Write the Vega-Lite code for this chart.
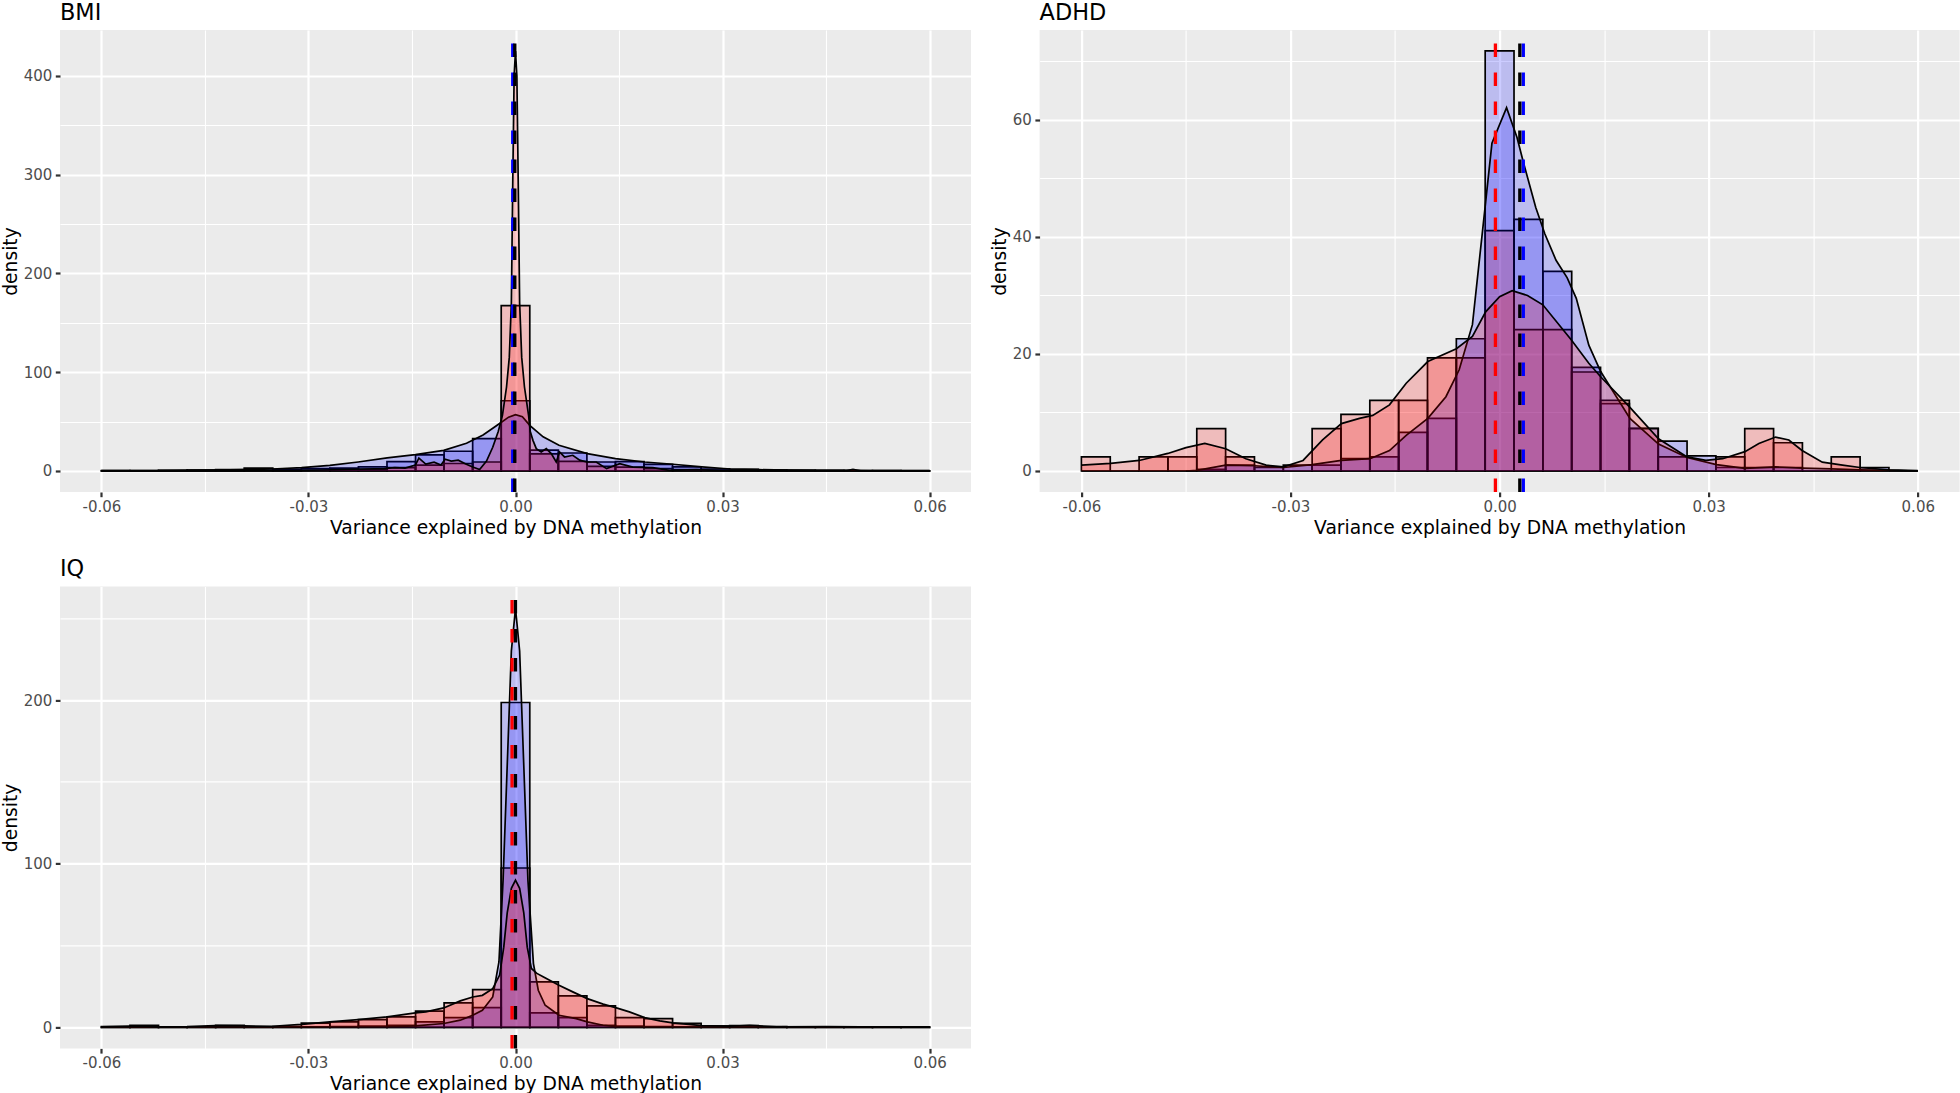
{
  "$schema": "https://vega.github.io/schema/vega-lite/v6.json",
  "background": "white",
  "padding": {"left": 1, "top": 1, "right": 0, "bottom": 0},
  "config": {
    "font": "DejaVu Sans",
    "view": {"fill": "#EBEBEB", "stroke": null},
    "axis": {"domain": false, "tickColor": "#333333", "tickWidth": 2.2, "tickSize": 4.7, "labelColor": "#4D4D4D", "labelFontSize": 15, "labelFont": "DejaVu Sans", "titleFont": "DejaVu Sans", "titleFontSize": 18.7, "titleFontWeight": "normal", "titleColor": "black", "gridColor": "#FFFFFF", "labelOverlap": false, "labelFlush": false, "labelPadding": 3.5, "titlePadding": 4},
    "axisX": {"labelPadding": 2.5, "titlePadding": 4},
    "axisY": {"titlePadding": 3},
    "title": {"anchor": "start", "frame": "group", "fontSize": 22.4, "fontWeight": "normal", "color": "black", "offset": 4, "font": "DejaVu Sans"}
  },
  "datasets": {
    "hist": [
      {"p":"BMI","lo":-0.06,"hi":-0.055862,"b":0.3,"r":0.2},
      {"p":"BMI","lo":-0.055862,"hi":-0.051724,"b":0.3,"r":0.2},
      {"p":"BMI","lo":-0.051724,"hi":-0.047586,"b":0.7,"r":0.3},
      {"p":"BMI","lo":-0.047586,"hi":-0.043448,"b":1.0,"r":0.3},
      {"p":"BMI","lo":-0.043448,"hi":-0.03931,"b":1.4,"r":0.5},
      {"p":"BMI","lo":-0.03931,"hi":-0.035172,"b":3.0,"r":0.5},
      {"p":"BMI","lo":-0.035172,"hi":-0.031034,"b":1.7,"r":0.3},
      {"p":"BMI","lo":-0.031034,"hi":-0.026897,"b":2.4,"r":0.7},
      {"p":"BMI","lo":-0.026897,"hi":-0.022759,"b":3.0,"r":1.0},
      {"p":"BMI","lo":-0.022759,"hi":-0.018621,"b":4.1,"r":1.7},
      {"p":"BMI","lo":-0.018621,"hi":-0.014483,"b":9.5,"r":3.4},
      {"p":"BMI","lo":-0.014483,"hi":-0.010345,"b":16.3,"r":6.0},
      {"p":"BMI","lo":-0.010345,"hi":-0.006207,"b":20.0,"r":7.6},
      {"p":"BMI","lo":-0.006207,"hi":-0.002069,"b":32.8,"r":9.1},
      {"p":"BMI","lo":-0.002069,"hi":0.002069,"b":71.1,"r":167.4},
      {"p":"BMI","lo":0.002069,"hi":0.006207,"b":21.2,"r":17.3},
      {"p":"BMI","lo":0.006207,"hi":0.010345,"b":18.2,"r":9.8},
      {"p":"BMI","lo":0.010345,"hi":0.014483,"b":9.1,"r":4.7},
      {"p":"BMI","lo":0.014483,"hi":0.018621,"b":9.5,"r":4.0},
      {"p":"BMI","lo":0.018621,"hi":0.022759,"b":6.8,"r":2.4},
      {"p":"BMI","lo":0.022759,"hi":0.026897,"b":4.1,"r":1.4},
      {"p":"BMI","lo":0.026897,"hi":0.031034,"b":2.0,"r":0.7},
      {"p":"BMI","lo":0.031034,"hi":0.035172,"b":1.7,"r":0.5},
      {"p":"BMI","lo":0.035172,"hi":0.03931,"b":1.0,"r":0.3},
      {"p":"BMI","lo":0.03931,"hi":0.043448,"b":0.7,"r":0.3},
      {"p":"BMI","lo":0.043448,"hi":0.047586,"b":0.5,"r":0.2},
      {"p":"BMI","lo":0.047586,"hi":0.051724,"b":0.3,"r":0.2},
      {"p":"BMI","lo":0.051724,"hi":0.055862,"b":0.3,"r":0.3},
      {"p":"BMI","lo":0.055862,"hi":0.06,"b":0.2,"r":0.2},
      {"p":"ADHD","lo":-0.06,"hi":-0.055862,"b":0,"r":2.42},
      {"p":"ADHD","lo":-0.055862,"hi":-0.051724,"b":0,"r":0},
      {"p":"ADHD","lo":-0.051724,"hi":-0.047586,"b":0,"r":2.42},
      {"p":"ADHD","lo":-0.047586,"hi":-0.043448,"b":0,"r":2.42},
      {"p":"ADHD","lo":-0.043448,"hi":-0.03931,"b":0.3,"r":7.25},
      {"p":"ADHD","lo":-0.03931,"hi":-0.035172,"b":1.0,"r":2.42},
      {"p":"ADHD","lo":-0.035172,"hi":-0.031034,"b":0.6,"r":0},
      {"p":"ADHD","lo":-0.031034,"hi":-0.026897,"b":1.0,"r":0},
      {"p":"ADHD","lo":-0.026897,"hi":-0.022759,"b":1.0,"r":7.25},
      {"p":"ADHD","lo":-0.022759,"hi":-0.018621,"b":2.1,"r":9.67},
      {"p":"ADHD","lo":-0.018621,"hi":-0.014483,"b":2.4,"r":12.08},
      {"p":"ADHD","lo":-0.014483,"hi":-0.010345,"b":6.6,"r":12.08},
      {"p":"ADHD","lo":-0.010345,"hi":-0.006207,"b":9.0,"r":19.33},
      {"p":"ADHD","lo":-0.006207,"hi":-0.002069,"b":22.6,"r":19.33},
      {"p":"ADHD","lo":-0.002069,"hi":0.002069,"b":71.8,"r":41.08},
      {"p":"ADHD","lo":0.002069,"hi":0.006207,"b":43.0,"r":24.17},
      {"p":"ADHD","lo":0.006207,"hi":0.010345,"b":34.1,"r":24.17},
      {"p":"ADHD","lo":0.010345,"hi":0.014483,"b":17.7,"r":16.92},
      {"p":"ADHD","lo":0.014483,"hi":0.018621,"b":11.5,"r":12.08},
      {"p":"ADHD","lo":0.018621,"hi":0.022759,"b":7.3,"r":7.25},
      {"p":"ADHD","lo":0.022759,"hi":0.026897,"b":5.1,"r":2.42},
      {"p":"ADHD","lo":0.026897,"hi":0.031034,"b":2.6,"r":0},
      {"p":"ADHD","lo":0.031034,"hi":0.035172,"b":0.6,"r":2.42},
      {"p":"ADHD","lo":0.035172,"hi":0.03931,"b":0.6,"r":7.25},
      {"p":"ADHD","lo":0.03931,"hi":0.043448,"b":0.6,"r":4.83},
      {"p":"ADHD","lo":0.043448,"hi":0.047586,"b":0,"r":0},
      {"p":"ADHD","lo":0.047586,"hi":0.051724,"b":0,"r":2.42},
      {"p":"ADHD","lo":0.051724,"hi":0.055862,"b":0.6,"r":0},
      {"p":"ADHD","lo":0.055862,"hi":0.06,"b":0,"r":0},
      {"p":"IQ","lo":-0.06,"hi":-0.055862,"b":0.2,"r":0.5},
      {"p":"IQ","lo":-0.055862,"hi":-0.051724,"b":0.2,"r":1.3},
      {"p":"IQ","lo":-0.051724,"hi":-0.047586,"b":0.1,"r":0.3},
      {"p":"IQ","lo":-0.047586,"hi":-0.043448,"b":0.1,"r":0.3},
      {"p":"IQ","lo":-0.043448,"hi":-0.03931,"b":0.2,"r":1.3},
      {"p":"IQ","lo":-0.03931,"hi":-0.035172,"b":0.2,"r":0.3},
      {"p":"IQ","lo":-0.035172,"hi":-0.031034,"b":0.2,"r":0.5},
      {"p":"IQ","lo":-0.031034,"hi":-0.026897,"b":0.3,"r":2.6},
      {"p":"IQ","lo":-0.026897,"hi":-0.022759,"b":0.5,"r":3.4},
      {"p":"IQ","lo":-0.022759,"hi":-0.018621,"b":0.8,"r":4.8},
      {"p":"IQ","lo":-0.018621,"hi":-0.014483,"b":1.3,"r":6.4},
      {"p":"IQ","lo":-0.014483,"hi":-0.010345,"b":3.4,"r":9.9},
      {"p":"IQ","lo":-0.010345,"hi":-0.006207,"b":6.0,"r":15.0},
      {"p":"IQ","lo":-0.006207,"hi":-0.002069,"b":12.1,"r":23.1},
      {"p":"IQ","lo":-0.002069,"hi":0.002069,"b":198.5,"r":97.4},
      {"p":"IQ","lo":0.002069,"hi":0.006207,"b":8.9,"r":27.8},
      {"p":"IQ","lo":0.006207,"hi":0.010345,"b":6.0,"r":19.3},
      {"p":"IQ","lo":0.010345,"hi":0.014483,"b":1.3,"r":13.2},
      {"p":"IQ","lo":0.014483,"hi":0.018621,"b":0.8,"r":6.0},
      {"p":"IQ","lo":0.018621,"hi":0.022759,"b":0.5,"r":5.4},
      {"p":"IQ","lo":0.022759,"hi":0.026897,"b":0.3,"r":2.4},
      {"p":"IQ","lo":0.026897,"hi":0.031034,"b":0.2,"r":0.9},
      {"p":"IQ","lo":0.031034,"hi":0.035172,"b":0.2,"r":1.1},
      {"p":"IQ","lo":0.035172,"hi":0.03931,"b":0.1,"r":0.5},
      {"p":"IQ","lo":0.03931,"hi":0.043448,"b":0.1,"r":0.3},
      {"p":"IQ","lo":0.043448,"hi":0.047586,"b":0.1,"r":0.3},
      {"p":"IQ","lo":0.047586,"hi":0.051724,"b":0.1,"r":0.3},
      {"p":"IQ","lo":0.051724,"hi":0.055862,"b":0.1,"r":0.3},
      {"p":"IQ","lo":0.055862,"hi":0.06,"b":0.1,"r":0.3}
    ],
    "dens": [
      {"p":"BMI","g":"b","x":-0.06,"y":0.3},{"p":"BMI","g":"b","x":-0.0517,"y":0.35},{"p":"BMI","g":"b","x":-0.0476,"y":0.7},{"p":"BMI","g":"b","x":-0.0435,"y":1.0},{"p":"BMI","g":"b","x":-0.0393,"y":1.35},{"p":"BMI","g":"b","x":-0.0352,"y":2.0},{"p":"BMI","g":"b","x":-0.031,"y":3.4},{"p":"BMI","g":"b","x":-0.0269,"y":5.7},{"p":"BMI","g":"b","x":-0.0228,"y":9.1},{"p":"BMI","g":"b","x":-0.0186,"y":13.2},{"p":"BMI","g":"b","x":-0.0145,"y":16.5},{"p":"BMI","g":"b","x":-0.0104,"y":20.9},{"p":"BMI","g":"b","x":-0.0071,"y":28},{"p":"BMI","g":"b","x":-0.0047,"y":36.4},{"p":"BMI","g":"b","x":-0.0023,"y":48},{"p":"BMI","g":"b","x":-0.001,"y":54.5},{"p":"BMI","g":"b","x":0,"y":57},{"p":"BMI","g":"b","x":0.001,"y":55},{"p":"BMI","g":"b","x":0.0021,"y":46},{"p":"BMI","g":"b","x":0.004,"y":34.6},{"p":"BMI","g":"b","x":0.0063,"y":26},{"p":"BMI","g":"b","x":0.0104,"y":17.6},{"p":"BMI","g":"b","x":0.0145,"y":12.5},{"p":"BMI","g":"b","x":0.0187,"y":9.1},{"p":"BMI","g":"b","x":0.0228,"y":6.8},{"p":"BMI","g":"b","x":0.027,"y":4.1},{"p":"BMI","g":"b","x":0.0311,"y":2.0},{"p":"BMI","g":"b","x":0.0352,"y":1.35},{"p":"BMI","g":"b","x":0.0394,"y":1.0},{"p":"BMI","g":"b","x":0.0435,"y":0.7},{"p":"BMI","g":"b","x":0.0476,"y":0.7},{"p":"BMI","g":"b","x":0.0518,"y":0.35},{"p":"BMI","g":"b","x":0.06,"y":0.3},
      {"p":"BMI","g":"r","x":-0.06,"y":0.1},{"p":"BMI","g":"r","x":-0.05,"y":0.2},{"p":"BMI","g":"r","x":-0.04,"y":0.3},{"p":"BMI","g":"r","x":-0.035,"y":0.5},{"p":"BMI","g":"r","x":-0.031,"y":0.7},{"p":"BMI","g":"r","x":-0.028,"y":1.0},{"p":"BMI","g":"r","x":-0.025,"y":1.5},{"p":"BMI","g":"r","x":-0.022,"y":2.0},{"p":"BMI","g":"r","x":-0.019,"y":2.5},{"p":"BMI","g":"r","x":-0.0175,"y":3.5},{"p":"BMI","g":"r","x":-0.016,"y":3.0},{"p":"BMI","g":"r","x":-0.0145,"y":6},{"p":"BMI","g":"r","x":-0.014,"y":13},{"p":"BMI","g":"r","x":-0.013,"y":7},{"p":"BMI","g":"r","x":-0.0118,"y":9},{"p":"BMI","g":"r","x":-0.0108,"y":6},{"p":"BMI","g":"r","x":-0.0102,"y":12},{"p":"BMI","g":"r","x":-0.0093,"y":10},{"p":"BMI","g":"r","x":-0.0083,"y":11},{"p":"BMI","g":"r","x":-0.0072,"y":7},{"p":"BMI","g":"r","x":-0.0062,"y":4},{"p":"BMI","g":"r","x":-0.0052,"y":1.5},{"p":"BMI","g":"r","x":-0.0042,"y":10},{"p":"BMI","g":"r","x":-0.0033,"y":24},{"p":"BMI","g":"r","x":-0.0025,"y":40},{"p":"BMI","g":"r","x":-0.0019,"y":56},{"p":"BMI","g":"r","x":-0.0013,"y":85},{"p":"BMI","g":"r","x":-0.0009,"y":115},{"p":"BMI","g":"r","x":-0.0006,"y":170},{"p":"BMI","g":"r","x":-0.0004,"y":290},{"p":"BMI","g":"r","x":-0.0002,"y":400},{"p":"BMI","g":"r","x":0,"y":425},{"p":"BMI","g":"r","x":0.0002,"y":400},{"p":"BMI","g":"r","x":0.0004,"y":290},{"p":"BMI","g":"r","x":0.0006,"y":170},{"p":"BMI","g":"r","x":0.0009,"y":115},{"p":"BMI","g":"r","x":0.0013,"y":85},{"p":"BMI","g":"r","x":0.0019,"y":56},{"p":"BMI","g":"r","x":0.00214,"y":40},{"p":"BMI","g":"r","x":0.00253,"y":31},{"p":"BMI","g":"r","x":0.00301,"y":22.6},{"p":"BMI","g":"r","x":0.00373,"y":19.2},{"p":"BMI","g":"r","x":0.00446,"y":22.6},{"p":"BMI","g":"r","x":0.00518,"y":17.6},{"p":"BMI","g":"r","x":0.0059,"y":9.1},{"p":"BMI","g":"r","x":0.00639,"y":19.2},{"p":"BMI","g":"r","x":0.0071,"y":14.2},{"p":"BMI","g":"r","x":0.0083,"y":15.9},{"p":"BMI","g":"r","x":0.0093,"y":11},{"p":"BMI","g":"r","x":0.0103,"y":9.1},{"p":"BMI","g":"r","x":0.0117,"y":9.1},{"p":"BMI","g":"r","x":0.0132,"y":2.4},{"p":"BMI","g":"r","x":0.0151,"y":7.4},{"p":"BMI","g":"r","x":0.017,"y":4},{"p":"BMI","g":"r","x":0.0199,"y":3.4},{"p":"BMI","g":"r","x":0.0223,"y":0.7},{"p":"BMI","g":"r","x":0.0262,"y":1.4},{"p":"BMI","g":"r","x":0.03,"y":0.3},{"p":"BMI","g":"r","x":0.0378,"y":0.3},{"p":"BMI","g":"r","x":0.048,"y":0.3},{"p":"BMI","g":"r","x":0.0489,"y":1.7},{"p":"BMI","g":"r","x":0.05,"y":0.2},{"p":"BMI","g":"r","x":0.06,"y":0.1},
      {"p":"ADHD","g":"r","x":-0.06,"y":1.0},{"p":"ADHD","g":"r","x":-0.0558,"y":1.3},{"p":"ADHD","g":"r","x":-0.0517,"y":1.8},{"p":"ADHD","g":"r","x":-0.0476,"y":3.0},{"p":"ADHD","g":"r","x":-0.045,"y":4.0},{"p":"ADHD","g":"r","x":-0.0423,"y":4.7},{"p":"ADHD","g":"r","x":-0.0393,"y":3.8},{"p":"ADHD","g":"r","x":-0.0364,"y":2.1},{"p":"ADHD","g":"r","x":-0.0335,"y":1.0},{"p":"ADHD","g":"r","x":-0.031,"y":0.7},{"p":"ADHD","g":"r","x":-0.0282,"y":1.8},{"p":"ADHD","g":"r","x":-0.0254,"y":5.3},{"p":"ADHD","g":"r","x":-0.0227,"y":8.1},{"p":"ADHD","g":"r","x":-0.0201,"y":9.0},{"p":"ADHD","g":"r","x":-0.0182,"y":9.5},{"p":"ADHD","g":"r","x":-0.0158,"y":11.3},{"p":"ADHD","g":"r","x":-0.0134,"y":15.0},{"p":"ADHD","g":"r","x":-0.0103,"y":18.7},{"p":"ADHD","g":"r","x":-0.0062,"y":20.9},{"p":"ADHD","g":"r","x":-0.0039,"y":23.0},{"p":"ADHD","g":"r","x":-0.002,"y":27.2},{"p":"ADHD","g":"r","x":0,"y":29.8},{"p":"ADHD","g":"r","x":0.0018,"y":30.8},{"p":"ADHD","g":"r","x":0.004,"y":30.0},{"p":"ADHD","g":"r","x":0.0062,"y":28.4},{"p":"ADHD","g":"r","x":0.0103,"y":22.4},{"p":"ADHD","g":"r","x":0.0128,"y":18.4},{"p":"ADHD","g":"r","x":0.0145,"y":16.1},{"p":"ADHD","g":"r","x":0.0186,"y":11.0},{"p":"ADHD","g":"r","x":0.0228,"y":5.5},{"p":"ADHD","g":"r","x":0.0269,"y":2.4},{"p":"ADHD","g":"r","x":0.0296,"y":1.8},{"p":"ADHD","g":"r","x":0.032,"y":2.1},{"p":"ADHD","g":"r","x":0.0352,"y":3.3},{"p":"ADHD","g":"r","x":0.0372,"y":4.7},{"p":"ADHD","g":"r","x":0.0396,"y":5.8},{"p":"ADHD","g":"r","x":0.0415,"y":5.3},{"p":"ADHD","g":"r","x":0.0434,"y":3.5},{"p":"ADHD","g":"r","x":0.0463,"y":1.5},{"p":"ADHD","g":"r","x":0.0492,"y":1.0},{"p":"ADHD","g":"r","x":0.0517,"y":0.6},{"p":"ADHD","g":"r","x":0.0558,"y":0.2},{"p":"ADHD","g":"r","x":0.06,"y":0.05},
      {"p":"ADHD","g":"b","x":-0.045,"y":0.0},{"p":"ADHD","g":"b","x":-0.0434,"y":0.1},{"p":"ADHD","g":"b","x":-0.0393,"y":1.0},{"p":"ADHD","g":"b","x":-0.0352,"y":0.9},{"p":"ADHD","g":"b","x":-0.031,"y":0.6},{"p":"ADHD","g":"b","x":-0.0269,"y":1.1},{"p":"ADHD","g":"b","x":-0.0227,"y":1.8},{"p":"ADHD","g":"b","x":-0.0186,"y":2.1},{"p":"ADHD","g":"b","x":-0.0158,"y":3.5},{"p":"ADHD","g":"b","x":-0.0134,"y":6.1},{"p":"ADHD","g":"b","x":-0.0103,"y":9.0},{"p":"ADHD","g":"b","x":-0.0077,"y":12.7},{"p":"ADHD","g":"b","x":-0.0058,"y":17.3},{"p":"ADHD","g":"b","x":-0.0039,"y":25},{"p":"ADHD","g":"b","x":-0.002,"y":46},{"p":"ADHD","g":"b","x":-0.0011,"y":56},{"p":"ADHD","g":"b","x":0.001,"y":62.1},{"p":"ADHD","g":"b","x":0.0025,"y":57},{"p":"ADHD","g":"b","x":0.0034,"y":52.8},{"p":"ADHD","g":"b","x":0.0052,"y":45},{"p":"ADHD","g":"b","x":0.0065,"y":40.5},{"p":"ADHD","g":"b","x":0.0081,"y":36},{"p":"ADHD","g":"b","x":0.0097,"y":33},{"p":"ADHD","g":"b","x":0.011,"y":29.5},{"p":"ADHD","g":"b","x":0.0128,"y":21.5},{"p":"ADHD","g":"b","x":0.0145,"y":17},{"p":"ADHD","g":"b","x":0.0187,"y":9},{"p":"ADHD","g":"b","x":0.0228,"y":4.6},{"p":"ADHD","g":"b","x":0.0269,"y":2.3},{"p":"ADHD","g":"b","x":0.0311,"y":1.1},{"p":"ADHD","g":"b","x":0.0352,"y":0.45},{"p":"ADHD","g":"b","x":0.0396,"y":0.7},{"p":"ADHD","g":"b","x":0.0434,"y":0.5},{"p":"ADHD","g":"b","x":0.0476,"y":0.35},{"p":"ADHD","g":"b","x":0.0517,"y":0.2},{"p":"ADHD","g":"b","x":0.0558,"y":0.1},{"p":"ADHD","g":"b","x":0.06,"y":0.0},
      {"p":"IQ","g":"b","x":-0.06,"y":0.1},{"p":"IQ","g":"b","x":-0.03,"y":0.2},{"p":"IQ","g":"b","x":-0.0186,"y":0.4},{"p":"IQ","g":"b","x":-0.0145,"y":0.9},{"p":"IQ","g":"b","x":-0.0104,"y":2.4},{"p":"IQ","g":"b","x":-0.008,"y":4.4},{"p":"IQ","g":"b","x":-0.0062,"y":7.4},{"p":"IQ","g":"b","x":-0.0048,"y":10.5},{"p":"IQ","g":"b","x":-0.0033,"y":18.6},{"p":"IQ","g":"b","x":-0.0024,"y":40},{"p":"IQ","g":"b","x":-0.0018,"y":90},{"p":"IQ","g":"b","x":-0.0012,"y":160},{"p":"IQ","g":"b","x":-0.0006,"y":230},{"p":"IQ","g":"b","x":0,"y":256},{"p":"IQ","g":"b","x":0.0006,"y":230},{"p":"IQ","g":"b","x":0.0012,"y":160},{"p":"IQ","g":"b","x":0.0018,"y":90},{"p":"IQ","g":"b","x":0.0026,"y":39},{"p":"IQ","g":"b","x":0.0033,"y":22.7},{"p":"IQ","g":"b","x":0.0043,"y":13.5},{"p":"IQ","g":"b","x":0.0063,"y":7.4},{"p":"IQ","g":"b","x":0.0088,"y":5.4},{"p":"IQ","g":"b","x":0.0104,"y":3.4},{"p":"IQ","g":"b","x":0.0127,"y":1.3},{"p":"IQ","g":"b","x":0.0146,"y":0.5},{"p":"IQ","g":"b","x":0.02,"y":0.2},{"p":"IQ","g":"b","x":0.06,"y":0.1},
      {"p":"IQ","g":"r","x":-0.06,"y":0.3},{"p":"IQ","g":"r","x":-0.054,"y":0.9},{"p":"IQ","g":"r","x":-0.0517,"y":0.3},{"p":"IQ","g":"r","x":-0.0476,"y":0.5},{"p":"IQ","g":"r","x":-0.0435,"y":1.1},{"p":"IQ","g":"r","x":-0.0393,"y":0.9},{"p":"IQ","g":"r","x":-0.0352,"y":0.7},{"p":"IQ","g":"r","x":-0.031,"y":1.8},{"p":"IQ","g":"r","x":-0.0269,"y":3.4},{"p":"IQ","g":"r","x":-0.0228,"y":4.8},{"p":"IQ","g":"r","x":-0.0186,"y":6.4},{"p":"IQ","g":"r","x":-0.0145,"y":8.9},{"p":"IQ","g":"r","x":-0.013,"y":9.5},{"p":"IQ","g":"r","x":-0.0104,"y":11.9},{"p":"IQ","g":"r","x":-0.008,"y":16.2},{"p":"IQ","g":"r","x":-0.0062,"y":18.6},{"p":"IQ","g":"r","x":-0.0048,"y":19.6},{"p":"IQ","g":"r","x":-0.0033,"y":23.7},{"p":"IQ","g":"r","x":-0.0023,"y":32},{"p":"IQ","g":"r","x":-0.0017,"y":49},{"p":"IQ","g":"r","x":-0.0012,"y":70},{"p":"IQ","g":"r","x":-0.0006,"y":85},{"p":"IQ","g":"r","x":0,"y":90},{"p":"IQ","g":"r","x":0.0006,"y":85},{"p":"IQ","g":"r","x":0.0012,"y":70},{"p":"IQ","g":"r","x":0.0017,"y":49},{"p":"IQ","g":"r","x":0.0023,"y":36},{"p":"IQ","g":"r","x":0.0031,"y":33},{"p":"IQ","g":"r","x":0.004,"y":30.9},{"p":"IQ","g":"r","x":0.0063,"y":25.8},{"p":"IQ","g":"r","x":0.0083,"y":21.7},{"p":"IQ","g":"r","x":0.0104,"y":17.6},{"p":"IQ","g":"r","x":0.0127,"y":14.2},{"p":"IQ","g":"r","x":0.0145,"y":12.1},{"p":"IQ","g":"r","x":0.0165,"y":9.5},{"p":"IQ","g":"r","x":0.0187,"y":6.0},{"p":"IQ","g":"r","x":0.0209,"y":4.0},{"p":"IQ","g":"r","x":0.0228,"y":2.8},{"p":"IQ","g":"r","x":0.027,"y":1.1},{"p":"IQ","g":"r","x":0.0311,"y":0.7},{"p":"IQ","g":"r","x":0.0339,"y":1.3},{"p":"IQ","g":"r","x":0.0378,"y":0.3},{"p":"IQ","g":"r","x":0.045,"y":0.5},{"p":"IQ","g":"r","x":0.06,"y":0.1}
    ],
    "vl": [
      {"p":"BMI","c":"blue","x":-0.0004},{"p":"BMI","c":"black","x":-0.0001},
      {"p":"ADHD","c":"red","x":-0.0006},{"p":"ADHD","c":"blue","x":0.0034},{"p":"ADHD","c":"black","x":0.0029},
      {"p":"IQ","c":"red","x":-0.0005},{"p":"IQ","c":"black","x":0.0}
    ]
  },
  "concat": [
    {
      "title": "BMI",
      "width": 911, "height": 462,
      "layer": [
        {"data": {"name": "hist"}, "transform": [{"filter": "datum.p == 'BMI'"}],
         "mark": {"type": "rect", "fill": "#0000FF", "fillOpacity": 0.2, "stroke": "black", "strokeWidth": 1.7},
         "encoding": {
           "x": {"field": "lo", "type": "quantitative", "title": "Variance explained by DNA methylation", "scale": {"domain": [-0.066, 0.066], "nice": false, "zero": false},
                 "axis": {"values": [-0.06,-0.045,-0.03,-0.015,0,0.015,0.03,0.045,0.06], "labelExpr": "(abs(datum.value) < 1e-9) ? '0.00' : ((abs(abs(datum.value) - 0.03) < 1e-9 || abs(abs(datum.value) - 0.06) < 1e-9) ? ((datum.value < 0 ? '-' : '') + format(abs(datum.value), '.2f')) : '')", "gridWidth": {"condition": {"test": "abs(datum.value) < 1e-9 || abs(abs(datum.value) - 0.03) < 1e-9 || abs(abs(datum.value) - 0.06) < 1e-9", "value": 2.2}, "value": 1.1}, "tickOpacity": {"condition": {"test": "abs(datum.value) < 1e-9 || abs(abs(datum.value) - 0.03) < 1e-9 || abs(abs(datum.value) - 0.06) < 1e-9", "value": 1}, "value": 0}}},
           "x2": {"field": "hi"},
           "y": {"field": "b", "type": "quantitative", "title": "density", "scale": {"domain": [-21.26, 446.36], "nice": false, "zero": false},
                 "axis": {"values": [0,50,100,150,200,250,300,350,400], "labelExpr": "datum.value % 100 === 0 ? '' + datum.value : ''", "gridWidth": {"condition": {"test": "datum.value % 100 === 0", "value": 2.2}, "value": 1.1}, "tickOpacity": {"condition": {"test": "datum.value % 100 === 0", "value": 1}, "value": 0}}},
           "y2": {"datum": 0}
         }},
        {"data": {"name": "hist"}, "transform": [{"filter": "datum.p == 'BMI'"}],
         "mark": {"type": "rect", "fill": "#FF0000", "fillOpacity": 0.2, "stroke": "black", "strokeWidth": 1.7},
         "encoding": {"x": {"field": "lo", "type": "quantitative", "title": "Variance explained by DNA methylation"}, "x2": {"field": "hi"}, "y": {"field": "r", "type": "quantitative", "title": "density"}, "y2": {"datum": 0}}},
        {"data": {"name": "dens"}, "transform": [{"filter": "datum.p == 'BMI' && datum.g == 'b'"}],
         "mark": {"type": "area", "fill": "#0000FF", "fillOpacity": 0.2, "line": {"color": "black", "strokeWidth": 1.7}},
         "encoding": {"x": {"field": "x", "type": "quantitative", "title": "Variance explained by DNA methylation"}, "y": {"field": "y", "type": "quantitative", "title": "density"}, "y2": {"datum": 0}}},
        {"data": {"name": "dens"}, "transform": [{"filter": "datum.p == 'BMI' && datum.g == 'r'"}],
         "mark": {"type": "area", "fill": "#FF0000", "fillOpacity": 0.2, "line": {"color": "black", "strokeWidth": 1.7}},
         "encoding": {"x": {"field": "x", "type": "quantitative", "title": "Variance explained by DNA methylation"}, "y": {"field": "y", "type": "quantitative", "title": "density"}, "y2": {"datum": 0}}},
        {"data": {"name": "vl"}, "transform": [{"filter": "datum.p == 'BMI' && datum.c == 'blue'"}],
         "mark": {"type": "rule", "color": "#0000FF", "strokeWidth": 3.3, "strokeDash": [13.5, 15.5]},
         "encoding": {"x": {"field": "x", "type": "quantitative", "title": "Variance explained by DNA methylation"}, "y": {"datum": -21.26}, "y2": {"datum": 446.36}}},
        {"data": {"name": "vl"}, "transform": [{"filter": "datum.p == 'BMI' && datum.c == 'black'"}],
         "mark": {"type": "rule", "color": "black", "strokeWidth": 3.3, "strokeDash": [13.5, 15.5]},
         "encoding": {"x": {"field": "x", "type": "quantitative", "title": "Variance explained by DNA methylation"}, "y": {"datum": -21.26}, "y2": {"datum": 446.36}}}
      ]
    },
    {
      "title": "ADHD",
      "width": 920, "height": 462,
      "layer": [
        {"data": {"name": "hist"}, "transform": [{"filter": "datum.p == 'ADHD'"}],
         "mark": {"type": "rect", "fill": "#0000FF", "fillOpacity": 0.2, "stroke": "black", "strokeWidth": 1.7},
         "encoding": {
           "x": {"field": "lo", "type": "quantitative", "title": "Variance explained by DNA methylation", "scale": {"domain": [-0.066, 0.066], "nice": false, "zero": false},
                 "axis": {"values": [-0.06,-0.045,-0.03,-0.015,0,0.015,0.03,0.045,0.06], "labelExpr": "(abs(datum.value) < 1e-9) ? '0.00' : ((abs(abs(datum.value) - 0.03) < 1e-9 || abs(abs(datum.value) - 0.06) < 1e-9) ? ((datum.value < 0 ? '-' : '') + format(abs(datum.value), '.2f')) : '')", "gridWidth": {"condition": {"test": "abs(datum.value) < 1e-9 || abs(abs(datum.value) - 0.03) < 1e-9 || abs(abs(datum.value) - 0.06) < 1e-9", "value": 2.2}, "value": 1.1}, "tickOpacity": {"condition": {"test": "abs(datum.value) < 1e-9 || abs(abs(datum.value) - 0.03) < 1e-9 || abs(abs(datum.value) - 0.06) < 1e-9", "value": 1}, "value": 0}}},
           "x2": {"field": "hi"},
           "y": {"field": "b", "type": "quantitative", "title": "density", "scale": {"domain": [-3.59, 75.36], "nice": false, "zero": false},
                 "axis": {"values": [0,10,20,30,40,50,60,70], "labelExpr": "datum.value % 20 === 0 ? '' + datum.value : ''", "gridWidth": {"condition": {"test": "datum.value % 20 === 0", "value": 2.2}, "value": 1.1}, "tickOpacity": {"condition": {"test": "datum.value % 20 === 0", "value": 1}, "value": 0}}},
           "y2": {"datum": 0}
         }},
        {"data": {"name": "hist"}, "transform": [{"filter": "datum.p == 'ADHD'"}],
         "mark": {"type": "rect", "fill": "#FF0000", "fillOpacity": 0.2, "stroke": "black", "strokeWidth": 1.7},
         "encoding": {"x": {"field": "lo", "type": "quantitative", "title": "Variance explained by DNA methylation"}, "x2": {"field": "hi"}, "y": {"field": "r", "type": "quantitative", "title": "density"}, "y2": {"datum": 0}}},
        {"data": {"name": "dens"}, "transform": [{"filter": "datum.p == 'ADHD' && datum.g == 'b'"}],
         "mark": {"type": "area", "fill": "#0000FF", "fillOpacity": 0.2, "line": {"color": "black", "strokeWidth": 1.7}},
         "encoding": {"x": {"field": "x", "type": "quantitative", "title": "Variance explained by DNA methylation"}, "y": {"field": "y", "type": "quantitative", "title": "density"}, "y2": {"datum": 0}}},
        {"data": {"name": "dens"}, "transform": [{"filter": "datum.p == 'ADHD' && datum.g == 'r'"}],
         "mark": {"type": "area", "fill": "#FF0000", "fillOpacity": 0.2, "line": {"color": "black", "strokeWidth": 1.7}},
         "encoding": {"x": {"field": "x", "type": "quantitative", "title": "Variance explained by DNA methylation"}, "y": {"field": "y", "type": "quantitative", "title": "density"}, "y2": {"datum": 0}}},
        {"data": {"name": "vl"}, "transform": [{"filter": "datum.p == 'ADHD' && datum.c == 'red'"}],
         "mark": {"type": "rule", "color": "#FF0000", "strokeWidth": 3.3, "strokeDash": [13.5, 15.5]},
         "encoding": {"x": {"field": "x", "type": "quantitative", "title": "Variance explained by DNA methylation"}, "y": {"datum": -3.59}, "y2": {"datum": 75.36}}},
        {"data": {"name": "vl"}, "transform": [{"filter": "datum.p == 'ADHD' && datum.c == 'blue'"}],
         "mark": {"type": "rule", "color": "#0000FF", "strokeWidth": 3.3, "strokeDash": [13.5, 15.5]},
         "encoding": {"x": {"field": "x", "type": "quantitative", "title": "Variance explained by DNA methylation"}, "y": {"datum": -3.59}, "y2": {"datum": 75.36}}},
        {"data": {"name": "vl"}, "transform": [{"filter": "datum.p == 'ADHD' && datum.c == 'black'"}],
         "mark": {"type": "rule", "color": "black", "strokeWidth": 3.3, "strokeDash": [13.5, 15.5]},
         "encoding": {"x": {"field": "x", "type": "quantitative", "title": "Variance explained by DNA methylation"}, "y": {"datum": -3.59}, "y2": {"datum": 75.36}}}
      ]
    },
    {
      "title": "IQ",
      "width": 911, "height": 462,
      "layer": [
        {"data": {"name": "hist"}, "transform": [{"filter": "datum.p == 'IQ'"}],
         "mark": {"type": "rect", "fill": "#0000FF", "fillOpacity": 0.2, "stroke": "black", "strokeWidth": 1.7},
         "encoding": {
           "x": {"field": "lo", "type": "quantitative", "title": "Variance explained by DNA methylation", "scale": {"domain": [-0.066, 0.066], "nice": false, "zero": false},
                 "axis": {"values": [-0.06,-0.045,-0.03,-0.015,0,0.015,0.03,0.045,0.06], "labelExpr": "(abs(datum.value) < 1e-9) ? '0.00' : ((abs(abs(datum.value) - 0.03) < 1e-9 || abs(abs(datum.value) - 0.06) < 1e-9) ? ((datum.value < 0 ? '-' : '') + format(abs(datum.value), '.2f')) : '')", "gridWidth": {"condition": {"test": "abs(datum.value) < 1e-9 || abs(abs(datum.value) - 0.03) < 1e-9 || abs(abs(datum.value) - 0.06) < 1e-9", "value": 2.2}, "value": 1.1}, "tickOpacity": {"condition": {"test": "abs(datum.value) < 1e-9 || abs(abs(datum.value) - 0.03) < 1e-9 || abs(abs(datum.value) - 0.06) < 1e-9", "value": 1}, "value": 0}}},
           "x2": {"field": "hi"},
           "y": {"field": "b", "type": "quantitative", "title": "density", "scale": {"domain": [-12.83, 269.43], "nice": false, "zero": false},
                 "axis": {"values": [0,50,100,150,200,250], "labelExpr": "datum.value % 100 === 0 ? '' + datum.value : ''", "gridWidth": {"condition": {"test": "datum.value % 100 === 0", "value": 2.2}, "value": 1.1}, "tickOpacity": {"condition": {"test": "datum.value % 100 === 0", "value": 1}, "value": 0}}},
           "y2": {"datum": 0}
         }},
        {"data": {"name": "hist"}, "transform": [{"filter": "datum.p == 'IQ'"}],
         "mark": {"type": "rect", "fill": "#FF0000", "fillOpacity": 0.2, "stroke": "black", "strokeWidth": 1.7},
         "encoding": {"x": {"field": "lo", "type": "quantitative", "title": "Variance explained by DNA methylation"}, "x2": {"field": "hi"}, "y": {"field": "r", "type": "quantitative", "title": "density"}, "y2": {"datum": 0}}},
        {"data": {"name": "dens"}, "transform": [{"filter": "datum.p == 'IQ' && datum.g == 'b'"}],
         "mark": {"type": "area", "fill": "#0000FF", "fillOpacity": 0.2, "line": {"color": "black", "strokeWidth": 1.7}},
         "encoding": {"x": {"field": "x", "type": "quantitative", "title": "Variance explained by DNA methylation"}, "y": {"field": "y", "type": "quantitative", "title": "density"}, "y2": {"datum": 0}}},
        {"data": {"name": "dens"}, "transform": [{"filter": "datum.p == 'IQ' && datum.g == 'r'"}],
         "mark": {"type": "area", "fill": "#FF0000", "fillOpacity": 0.2, "line": {"color": "black", "strokeWidth": 1.7}},
         "encoding": {"x": {"field": "x", "type": "quantitative", "title": "Variance explained by DNA methylation"}, "y": {"field": "y", "type": "quantitative", "title": "density"}, "y2": {"datum": 0}}},
        {"data": {"name": "vl"}, "transform": [{"filter": "datum.p == 'IQ' && datum.c == 'red'"}],
         "mark": {"type": "rule", "color": "#FF0000", "strokeWidth": 3.3, "strokeDash": [13.5, 15.5]},
         "encoding": {"x": {"field": "x", "type": "quantitative", "title": "Variance explained by DNA methylation"}, "y": {"datum": -12.83}, "y2": {"datum": 269.43}}},
        {"data": {"name": "vl"}, "transform": [{"filter": "datum.p == 'IQ' && datum.c == 'black'"}],
         "mark": {"type": "rule", "color": "black", "strokeWidth": 3.3, "strokeDash": [13.5, 15.5]},
         "encoding": {"x": {"field": "x", "type": "quantitative", "title": "Variance explained by DNA methylation"}, "y": {"datum": -12.83}, "y2": {"datum": 269.43}}}
      ]
    }
  ],
  "columns": 2,
  "bounds": "flush",
  "spacing": {"row": 94.4, "column": 68.6}
}
